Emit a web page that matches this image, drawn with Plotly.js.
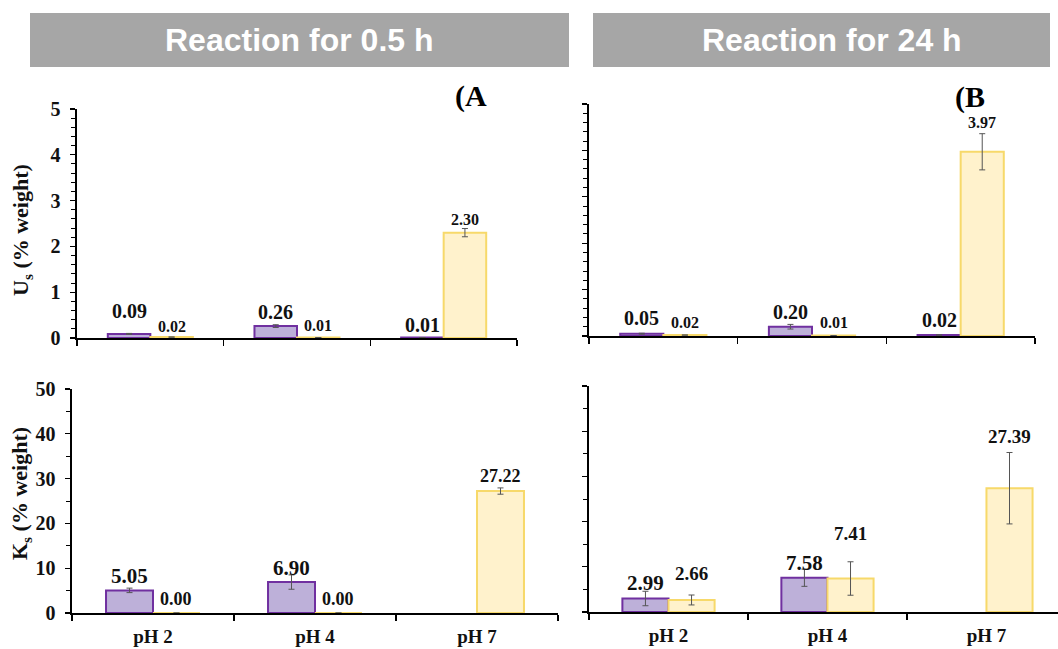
<!DOCTYPE html>
<html>
<head>
<meta charset="utf-8">
<script src="https://cdn.plot.ly/plotly-3.0.1.min.js"></script>
<style>html,body{margin:0;padding:0;background:#fff}#chart{width:1058px;height:649px}</style>
</head>
<body>
<div id="chart"></div>
<script>
// ---------------- data ----------------
const categories = ["pH 2", "pH 4", "pH 7"];
const panelTitles = ["Reaction for 0.5 h", "Reaction for 24 h"];
const panelTags = ["(A", "(B"];

// Us (% weight) – 0.5 h
const us05_purple = [0.09, 0.26, 0.01];
const us05_purple_err = [0.01, 0.03, 0.00];
const us05_yellow = [0.02, 0.01, 2.30];
const us05_yellow_err = [0.00, 0.00, 0.09];
// Us (% weight) – 24 h
const us24_purple = [0.05, 0.20, 0.02];
const us24_purple_err = [0.01, 0.05, 0.00];
const us24_yellow = [0.02, 0.01, 3.97];
const us24_yellow_err = [0.00, 0.00, 0.39];
// Ks (% weight) – 0.5 h
const ks05_purple = [5.05, 6.90, null];
const ks05_purple_err = [0.5, 1.6, null];
const ks05_yellow = [0.00, 0.00, 27.22];
const ks05_yellow_err = [0.0, 0.0, 0.7];
// Ks (% weight) – 24 h
const ks24_purple = [2.99, 7.58, null];
const ks24_purple_err = [1.6, 1.9, null];
const ks24_yellow = [2.66, 7.41, 27.39];
const ks24_yellow_err = [1.1, 3.7, 7.9];

// ---------------- styling ----------------
const W = 1058, H = 649;
const SERIF = "Liberation Serif, Times New Roman, serif";
const PURPLE_FILL = "#bdb0d9", PURPLE_LINE = "#7030a0";
const YELLOW_FILL = "#fff2cc", YELLOW_LINE = "#f7d96a";

// panel pixel boxes: [x0, x1, yTop, yBottom]
const boxes = {
  tl: [77, 517, 109, 338],
  tr: [589, 1035, 104, 336],
  bl: [72, 558, 389, 613],
  br: [589, 1058, 386, 612]
};
const px2x = p => p / W;
const px2y = p => 1 - p / H;

const panels = [
  {key:"tl", xa:"x",  ya:"y",  p:us05_purple, pe:us05_purple_err, yv:us05_yellow, ye:us05_yellow_err,
   shiftP:[23, 14, 12.5], shiftY:[11, 12.5, 12.7], sizeP:20, sizeY:16},
  {key:"tr", xa:"x2", ya:"y2", p:us24_purple, pe:us24_purple_err, yv:us24_yellow, ye:us24_yellow_err,
   shiftP:[15.7, 14.7, 15], shiftY:[13, 13.5, 28.8], sizeP:20, sizeY:16},
  {key:"bl", xa:"x3", ya:"y3", p:ks05_purple, pe:ks05_purple_err, yv:ks05_yellow, ye:ks05_yellow_err,
   shiftP:[14.4, 14, 14], shiftY:[14, 14, 15], sizeP:21, sizeY:18},
  {key:"br", xa:"x4", ya:"y4", p:ks24_purple, pe:ks24_purple_err, yv:ks24_yellow, ye:ks24_yellow_err,
   shiftP:[15.5, 14.7, 14], shiftY:[26, 45.5, 52], sizeP:21, sizeY:19}
];

const traces = [];
const annotations = [];
const errStyle = {type:"data", color:"#555", thickness:1, width:3, visible:true};

panels.forEach(pn => {
  traces.push({
    type:"bar", x:categories, y:pn.p, xaxis:pn.xa, yaxis:pn.ya,
    marker:{color:PURPLE_FILL, line:{color:PURPLE_LINE, width:2}},
    error_y:Object.assign({array:pn.pe}, errStyle),
    showlegend:false, hoverinfo:"skip"
  });
  traces.push({
    type:"bar", x:categories, y:pn.yv, xaxis:pn.xa, yaxis:pn.ya,
    marker:{color:YELLOW_FILL, line:{color:YELLOW_LINE, width:2}},
    error_y:Object.assign({array:pn.ye}, errStyle),
    showlegend:false, hoverinfo:"skip"
  });
  [[pn.p, pn.shiftP, pn.sizeP, -0.145], [pn.yv, pn.shiftY, pn.sizeY, 0.145]].forEach(([vals, shifts, size, off]) => {
    vals.forEach((v, i) => {
      if (v === null) return;
      annotations.push({
        xref:pn.xa, yref:pn.ya, x:i + off, y:v, text:v.toFixed(2),
        showarrow:false, xanchor:"center", yanchor:"middle", yshift:shifts[i],
        font:{family:SERIF, size:size, color:"#111", weight:700}
      });
    });
  });
});

// header bars + titles
const shapes = [
  {type:"rect", xref:"paper", yref:"paper", x0:px2x(30), x1:px2x(569), y0:px2y(67), y1:px2y(13),
   fillcolor:"#a6a6a6", line:{width:0}, layer:"below"},
  {type:"rect", xref:"paper", yref:"paper", x0:px2x(593), x1:px2x(1050), y0:px2y(67), y1:px2y(13),
   fillcolor:"#a6a6a6", line:{width:0}, layer:"below"}
];
annotations.push({xref:"paper", yref:"paper", x:px2x(299), y:px2y(40), text:panelTitles[0], showarrow:false,
  xanchor:"center", yanchor:"middle", font:{family:"Liberation Sans, Arial, sans-serif", size:32, color:"#fff", weight:700}});
annotations.push({xref:"paper", yref:"paper", x:px2x(832), y:px2y(40), text:panelTitles[1], showarrow:false,
  xanchor:"center", yanchor:"middle", font:{family:"Liberation Sans, Arial, sans-serif", size:32, color:"#fff", weight:700}});
annotations.push({xref:"paper", yref:"paper", x:px2x(453), y:px2y(96), text:panelTags[0], showarrow:false,
  xanchor:"left", yanchor:"middle", font:{family:SERIF, size:30, color:"#000", weight:700}});
annotations.push({xref:"paper", yref:"paper", x:px2x(953), y:px2y(97), text:panelTags[1], showarrow:false,
  xanchor:"left", yanchor:"middle", font:{family:SERIF, size:30, color:"#000", weight:700}});
// y-axis titles
annotations.push({xref:"paper", yref:"paper", x:px2x(22), y:px2y(230), text:"U<sub>s</sub> (% weight)", showarrow:false,
  textangle:-90, xanchor:"center", yanchor:"middle", font:{family:SERIF, size:22, color:"#111", weight:700}});
annotations.push({xref:"paper", yref:"paper", x:px2x(21), y:px2y(494), text:"K<sub>s</sub> (% weight)", showarrow:false,
  textangle:-90, xanchor:"center", yanchor:"middle", font:{family:SERIF, size:22, color:"#111", weight:700}});

function xAxis(key, showLabels, range) {
  const b = boxes[key];
  return {
    domain:[px2x(b[0]), px2x(b[1])], range:range || [-0.5, 2.5], type:"category",
    showline:true, linecolor:"#000", linewidth:1.6, ticks:"outside", tickson:"boundaries",
    ticklen:6, tickcolor:"#000", tickwidth:1.3, showgrid:false, zeroline:false,
    showticklabels:showLabels, ticklabelstandoff:6,
    tickfont:{family:SERIF, size:19, color:"#111", weight:700}, fixedrange:true
  };
}
function yAxis(key, range, dtick, minor, showLabels) {
  const b = boxes[key];
  return {
    domain:[px2y(b[3]), px2y(b[2])], range:range, dtick:dtick, tick0:0,
    showline:true, linecolor:"#000", linewidth:1.6, ticks:"outside", ticklen:5,
    tickcolor:"#000", tickwidth:1.3, showgrid:false, zeroline:false,
    minor:{dtick:minor, ticks:"outside", ticklen:4, tickcolor:"#000", tickwidth:1, showgrid:false},
    showticklabels:showLabels, ticklabelstandoff:6,
    tickfont:{family:SERIF, size:20, color:"#111", weight:700}, fixedrange:true
  };
}

const layout = {
  width:W, height:H, margin:{l:0, r:0, t:0, b:0}, paper_bgcolor:"#fff", plot_bgcolor:"rgba(0,0,0,0)",
  barmode:"group", bargap:0.42, bargroupgap:0, showlegend:false,
  xaxis:Object.assign(xAxis("tl", false), {anchor:"y"}), yaxis:Object.assign(yAxis("tl", [0, 5], 1, 0.2, true), {anchor:"x"}),
  xaxis2:Object.assign(xAxis("tr", false), {anchor:"y2"}), yaxis2:Object.assign(yAxis("tr", [0, 5], 1, 0.2, false), {anchor:"x2"}),
  xaxis3:Object.assign(xAxis("bl", true), {anchor:"y3"}), yaxis3:Object.assign(yAxis("bl", [0, 50], 10, 5, true), {anchor:"x3"}),
  xaxis4:Object.assign(xAxis("br", true, [-0.5, 2.45]), {anchor:"y4"}), yaxis4:Object.assign(yAxis("br", [0, 50], 10, 5, false), {anchor:"x4"}),
  shapes:shapes, annotations:annotations
};

Plotly.newPlot("chart", traces, layout, {displayModeBar:false, staticPlot:true});
</script>
</body>
</html>
